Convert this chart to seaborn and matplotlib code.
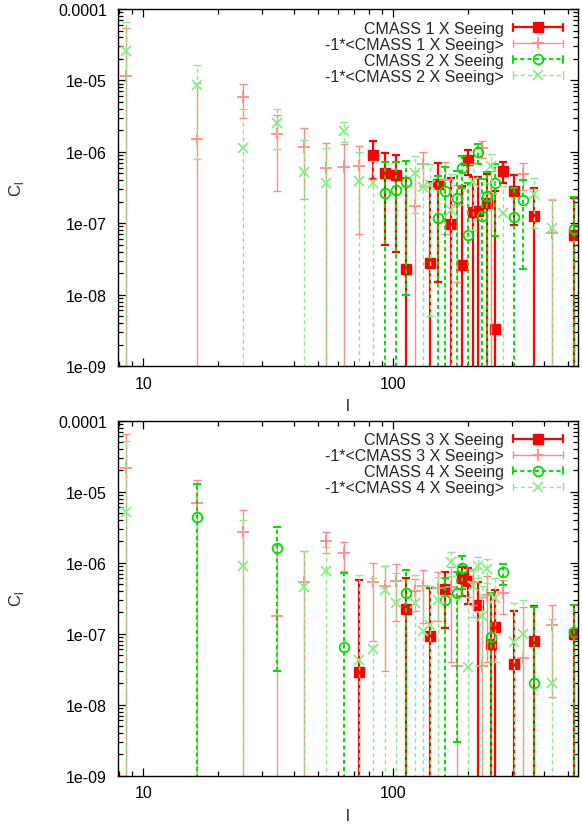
import numpy as np
import matplotlib
matplotlib.use("Agg")
import matplotlib.pyplot as plt
import matplotlib.ticker as mtick
from matplotlib.lines import Line2D
from matplotlib.legend_handler import HandlerLine2D
import seaborn as sns

# ---- top panel: CMASS 1 / CMASS 2 x seeing ----
c1_pos_l = [83.4, 92.8, 102.5, 112.4, 141, 151, 170, 189.5, 199, 208, 218, 237, 256, 275, 304, 366, 528]
c1_pos_v = [9.1e-7, 5.0e-7, 4.7e-7, 2.3e-8, 2.8e-8, 3.55e-7, 9.8e-8, 2.6e-8, 7.7e-7, 1.42e-7,
            1.5e-7, 1.92e-7, 3.3e-9, 5.4e-7, 2.85e-7, 1.25e-7, 6.8e-8]
c1_pos_e = [5.0e-7, 4.5e-7, 4.3e-7, 4.0e-7, 3.5e-7, 3.4e-7, 3.3e-7, 3.1e-7, 3.0e-7, 3.0e-7,
            3.0e-7, 2.9e-7, 2.8e-7, 1.8e-7, 1.9e-7, 1.9e-7, 1.6e-7]

c1_neg_l = [8.5, 16.4, 25.1, 34.4, 44, 54, 63.5, 73.3, 122, 131.5, 160.7, 180, 227.5, 246.5, 332, 434]
c1_neg_v = [1.16e-5, 1.5e-6, 5.9e-6, 1.78e-6, 1.18e-6, 5.9e-7, 6.2e-7, 6.3e-7, 1.75e-7, 6.7e-7,
            4.0e-7, 1.8e-7, 1.12e-6, 2.6e-7, 4.9e-7, 7.4e-8]
c1_neg_e = [4.2e-5, 7.8e-6, 2.9e-6, 1.5e-6, 9.6e-7, 7.4e-7, 6.5e-7, 5.6e-7, 3.7e-7, 3.4e-7,
            3.3e-7, 1.65e-7, 3.1e-7, 2.8e-7, 2.0e-7, 1.4e-7]

c2_pos_l = [92.8, 102.5, 112.4, 151, 160.7, 180, 189.5, 199, 218, 227.5, 237, 256, 304, 332, 528]
c2_pos_v = [2.65e-7, 2.9e-7, 3.8e-7, 1.2e-7, 2.85e-7, 2.24e-7, 5.9e-7, 6.9e-8, 9.8e-7, 1.26e-7,
            2.38e-7, 3.66e-7, 1.24e-7, 2.13e-7, 8.3e-8]
c2_pos_e = [4.5e-7, 4.2e-7, 3.7e-7, 3.4e-7, 3.3e-7, 3.2e-7, 2.8e-7, 3.0e-7, 3.0e-7, 2.9e-7,
            2.9e-7, 3.0e-7, 1.9e-7, 1.9e-7, 1.5e-7]

c2_neg_l = [8.5, 16.4, 25.1, 34.4, 44, 54, 63.5, 73.3, 83.4, 122, 131.5, 141, 170, 208, 246.5, 275, 366, 434]
c2_neg_v = [2.6e-5, 8.6e-6, 1.13e-6, 2.53e-6, 5.2e-7, 3.7e-7, 1.98e-6, 3.9e-7, 3.7e-7, 5.0e-7,
            3.2e-7, 3.45e-7, 1.55e-7, 3.8e-7, 6.4e-7, 1.37e-7, 2.57e-7, 8.5e-8]
c2_neg_e = [4.0e-5, 7.8e-6, 2.9e-6, 1.45e-6, 9.6e-7, 7.5e-7, 6.0e-7, 5.9e-7, 3.8e-7, 3.6e-7,
            3.5e-7, 3.4e-7, 3.3e-7, 3.0e-7, 2.8e-7, 1.9e-7, 1.7e-7, 1.3e-7]

# ---- bottom panel: CMASS 3 / CMASS 4 x seeing ----
c3_pos_l = [73.3, 112.4, 141, 160.7, 189.5, 199, 218, 246.5, 256, 304, 366, 528]
c3_pos_v = [2.85e-8, 2.23e-7, 9.4e-8, 4.27e-7, 6.0e-7, 5.5e-7, 2.53e-7, 7.2e-8, 1.26e-7, 3.7e-8, 7.9e-8, 1.0e-7]
c3_pos_e = [5.4e-7, 3.9e-7, 3.4e-7, 3.05e-7, 2.6e-7, 2.9e-7, 2.9e-7, 2.8e-7, 2.8e-7, 1.75e-7, 1.7e-7, 1.5e-7]

c3_neg_l = [8.5, 16.4, 25.1, 34.4, 44, 54, 63.5, 83.4, 92.8, 102.5, 122, 131.5, 151, 170, 180,
            208, 227.5, 237, 275, 332, 434]
c3_neg_v = [2.14e-5, 6.9e-6, 2.68e-6, 1.8e-7, 5.4e-7, 2.04e-6, 1.37e-6, 5.4e-7, 4.7e-7, 5.6e-7,
            4.0e-7, 4.7e-7, 4.4e-7, 4.5e-7, 3.5e-8, 5.3e-7, 3.5e-8, 3.5e-7, 3.8e-7, 4.6e-8, 1.33e-7]
c3_neg_e = [4.4e-5, 7.8e-6, 2.9e-6, 1.6e-6, 9.4e-7, 6.5e-7, 6.0e-7, 4.6e-7, 4.4e-7, 4.1e-7,
            1.9e-7, 3.3e-7, 2.9e-7, 4.1e-7, 3.2e-7, 2.8e-7, 2.9e-7, 3.1e-7, 1.9e-7, 1.9e-7, 1.2e-7]

c4_pos_l = [16.4, 34.4, 63.5, 112.4, 160.7, 180, 189.5, 246.5, 275, 366, 528]
c4_pos_v = [4.37e-6, 1.61e-6, 6.5e-8, 3.7e-7, 3.0e-7, 3.7e-7, 8.3e-7, 9.0e-8, 7.3e-7, 2.0e-8, 1.05e-7]
c4_pos_e = [8.5e-6, 1.58e-6, 6.6e-7, 4.3e-7, 3.1e-7, 3.67e-7, 4.0e-7, 2.8e-7, 2.4e-7, 2.2e-7, 1.5e-7]

c4_neg_l = [8.5, 25.1, 44, 54, 73.3, 83.4, 92.8, 102.5, 122, 131.5, 141, 151, 170, 199, 208,
            218, 227.5, 237, 256, 304, 332, 434]
c4_neg_v = [5.1e-6, 9.1e-7, 4.5e-7, 7.7e-7, 4.2e-8, 6.0e-8, 4.13e-7, 2.68e-7, 2.75e-7, 1.1e-7,
            1.33e-7, 3.0e-7, 1.03e-6, 3.4e-8, 4.7e-7, 9.1e-7, 1.8e-7, 8.1e-7, 3.2e-7, 7.7e-8, 1.0e-7, 2.0e-8]
c4_neg_e = [4.7e-5, 3.1e-6, 1.0e-6, 9.0e-7, 6.2e-7, 5.5e-7, 4.9e-7, 4.5e-7, 4.0e-7, 3.6e-7,
            3.4e-7, 3.3e-7, 3.7e-7, 3.0e-7, 3.0e-7, 3.0e-7, 2.9e-7, 3.0e-7, 2.8e-7, 1.9e-7, 2.0e-7, 1.4e-7]

y_ticks = [1e-9, 1e-8, 1e-7, 1e-6, 1e-5, 1e-4]

sns.set_style("ticks")
plt.rcParams['font.family'] = ['Liberation Sans', 'DejaVu Sans']
plt.rcParams['lines.scale_dashes'] = False

DASH = (0, (3.0, 2.2))
styles = {
    'pos_a': dict(color='#ff0000', marker='s', ms=6.5, mfc='#ff0000', lw=1.6, ls='-'),
    'neg_a': dict(color='#ff8c8c', marker='+', ms=8, mfc='#ff8c8c', lw=1.0, ls='-'),
    'pos_b': dict(color='#00e000', marker='o', ms=7, mfc='none', lw=1.4, ls=DASH),
    'neg_b': dict(color='#88ee88', marker='x', ms=6.5, mfc='none', lw=1.0, ls=DASH),
}


class CapHandler(HandlerLine2D):
    # gnuplot-like key sample: |---o---|
    def create_artists(self, legend, orig_handle, xdescent, ydescent, width, height, fontsize, trans):
        arts = super().create_artists(legend, orig_handle, xdescent, ydescent, width, height, fontsize, trans)
        xd = arts[0].get_xdata()
        y = arts[0].get_ydata()[0]
        h = height * 0.32
        for x in (xd[0], xd[-1]):
            cap = Line2D([x, x], [y - h, y + h], color=orig_handle.get_color(),
                         lw=orig_handle.get_linewidth())
            cap.set_transform(trans)
            arts.append(cap)
        return arts


def draw_series(ax, ell, val, err, key):
    st = styles[key]
    ell = np.asarray(ell)
    val = np.asarray(val)
    err = np.asarray(err)
    # bars whose lower end is not positive run off the bottom of the log axis
    lo = np.where(val - err > 0, err, val * (1 - 1e-9))
    eb = ax.errorbar(ell, val, yerr=[lo, err], fmt='none', ecolor=st['color'],
                     elinewidth=st['lw'], capsize=3.2, capthick=st['lw'])
    if st['ls'] != '-':
        for c in eb[2]:
            c.set_linestyle(st['ls'])
    ax.plot(ell, val, ls='none', marker=st['marker'], ms=st['ms'], mfc=st['mfc'],
            mec=st['color'], mew=1.3 if key != 'pos_a' else 1.0, color=st['color'])


def style_axis(ax, names):
    ax.set_xscale('log')
    ax.set_yscale('log')
    ax.set_xlim(7.93, 548)
    ax.set_ylim(1e-9, 1e-4)
    ax.yaxis.set_major_locator(mtick.FixedLocator(y_ticks))
    ax.yaxis.set_major_formatter(mtick.FuncFormatter(
        lambda v, p: '0.0001' if abs(v - 1e-4) < 1e-12 else '%.0e' % v))
    ax.yaxis.set_minor_locator(mtick.LogLocator(base=10, subs=np.arange(2, 10), numticks=20))
    ax.yaxis.set_minor_formatter(mtick.NullFormatter())
    ax.xaxis.set_major_locator(mtick.FixedLocator([10, 100]))
    ax.xaxis.set_major_formatter(mtick.FixedFormatter(['10', '100']))
    ax.xaxis.set_minor_locator(mtick.LogLocator(base=10, subs=np.arange(2, 10), numticks=20))
    ax.xaxis.set_minor_formatter(mtick.NullFormatter())
    ax.tick_params(which='both', direction='in', top=True, right=True, labelsize=11.5,
                   colors='black', width=0.9)
    ax.tick_params(which='major', length=6)
    ax.tick_params(which='minor', length=3.5)
    ax.tick_params(axis='y', pad=8)
    ax.tick_params(axis='x', pad=7)
    for s in ax.spines.values():
        s.set_linewidth(1.0)
        s.set_color('black')
    ax.set_xlabel('l', fontsize=12)
    ax.set_ylabel(r'C$_\mathregular{l}$', fontsize=12)
    ax.yaxis.set_label_coords(-0.2, 0.5)
    ax.xaxis.set_label_coords(0.5, -0.09)

    handles = []
    for key in ['pos_a', 'neg_a', 'pos_b', 'neg_b']:
        st = styles[key]
        handles.append(Line2D([], [], color=st['color'], ls=st['ls'], lw=st['lw'],
                              marker=st['marker'], ms=st['ms'], mfc=st['mfc'], mec=st['color'],
                              mew=1.3 if key != 'pos_a' else 1.0))
    ax.legend(handles, names, loc='upper right', bbox_to_anchor=(0.981, 0.985),
              frameon=False, markerfirst=False, numpoints=1, handlelength=3.1,
              handletextpad=0.6, labelspacing=0.06, fontsize=11.5, borderaxespad=0,
              handler_map={Line2D: CapHandler()})


fig = plt.figure(figsize=(5.82, 8.29), dpi=100)
ax1 = fig.add_axes([0.2027, 0.5573, 0.790, 0.4306])
ax2 = fig.add_axes([0.2027, 0.0631, 0.790, 0.4282])

draw_series(ax1, c1_pos_l, c1_pos_v, c1_pos_e, 'pos_a')
draw_series(ax1, c1_neg_l, c1_neg_v, c1_neg_e, 'neg_a')
draw_series(ax1, c2_pos_l, c2_pos_v, c2_pos_e, 'pos_b')
draw_series(ax1, c2_neg_l, c2_neg_v, c2_neg_e, 'neg_b')
style_axis(ax1, ['CMASS 1 X Seeing', '-1*<CMASS 1 X Seeing>',
                 'CMASS 2 X Seeing', '-1*<CMASS 2 X Seeing>'])

draw_series(ax2, c3_pos_l, c3_pos_v, c3_pos_e, 'pos_a')
draw_series(ax2, c3_neg_l, c3_neg_v, c3_neg_e, 'neg_a')
draw_series(ax2, c4_pos_l, c4_pos_v, c4_pos_e, 'pos_b')
draw_series(ax2, c4_neg_l, c4_neg_v, c4_neg_e, 'neg_b')
style_axis(ax2, ['CMASS 3 X Seeing', '-1*<CMASS 3 X Seeing>',
                 'CMASS 4 X Seeing', '-1*<CMASS 4 X Seeing>'])

fig.savefig('out.png', dpi=100)
